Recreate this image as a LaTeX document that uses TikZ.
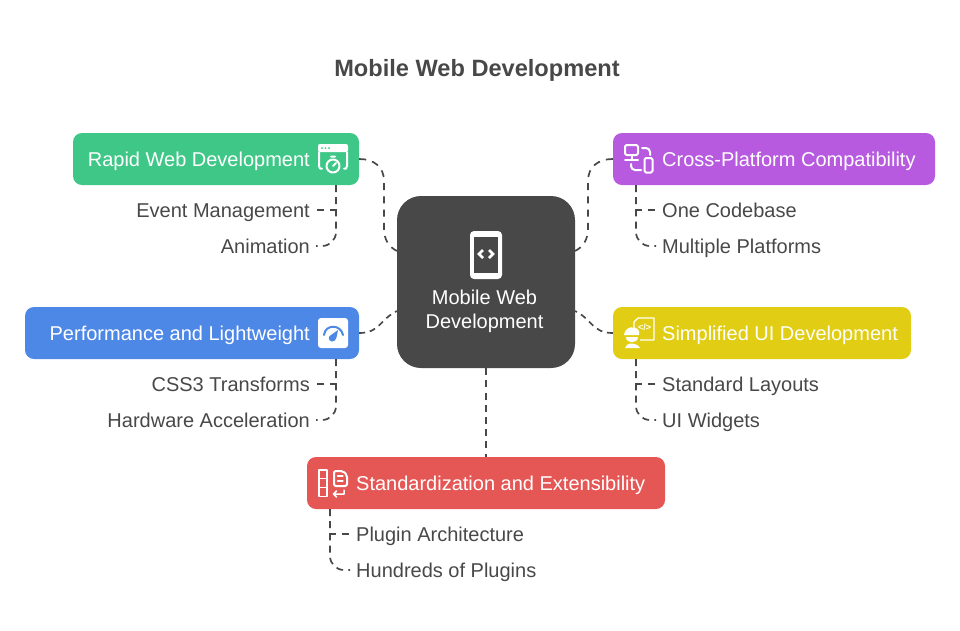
\documentclass[tikz,border=0pt]{standalone}
\usepackage{fontspec}
\setmainfont{Liberation Sans}
\definecolor{inkgrey}{HTML}{484848}
\definecolor{rapidgreen}{HTML}{3EC787}
\definecolor{crosspurple}{HTML}{B75AE0}
\definecolor{perfblue}{HTML}{4E88E7}
\definecolor{simplyellow}{HTML}{E0CD14}
\definecolor{stdred}{HTML}{E55755}
\begin{document}
\begin{tikzpicture} [
                    x=1pt, y=-1pt,
                    box/.style={draw=none, rectangle, rounded corners=9pt, minimum height=52pt, inner sep=0pt},
                    head/.style={text=white, inner sep=0pt, font=\fontsize{20}{24}\selectfont},
                    sublabel/.style={text=inkgrey, inner xsep=6pt, inner ysep=0pt, font=\fontsize{20}{24}\selectfont},
                    link/.style={draw=inkgrey, line width=1.7pt, dash pattern=on 7pt off 5.2pt},
                    longlink/.style={link, dash pattern=on 7pt off 6.2pt},
                    shortlink/.style={link, dash pattern=on 6pt off 4.7pt},
                    branch/.style={link, rounded corners=14pt},
                    icon/.style={draw=white, line width=2pt, line cap=round, line join=round}
                ]
                \useasboundingbox (0,0) rectangle (960,630);
                \node [font=\bfseries\fontsize{23.6}{28}\selectfont, text=inkgrey, inner sep=0pt] (title) at (477,70) {Mobile Web Development};

                % centre block
                \node [box, fill=inkgrey, minimum width=178pt, minimum height=172pt, rounded corners=24pt] (hub) at (486,282) {};
                \node [text=white, inner sep=0pt, align=center, font=\fontsize{20}{24}\selectfont] (hubtext) at (484.5,311) {Mobile Web\\Development};

                % boxes
                \node [box, fill=rapidgreen, minimum width=286pt] (rapid) at (216,159) {};
                \node [box, fill=crosspurple, minimum width=322pt] (cross) at (774,159) {};
                \node [box, fill=perfblue, minimum width=334pt] (perf) at (192,333) {};
                \node [box, fill=simplyellow, minimum width=298pt] (simpl) at (762,333) {};
                \node [box, fill=stdred, minimum width=358pt] (std) at (486,483) {};

                \node [head, anchor=mid east] (rapidtext) at (310,164) {Rapid Web Development};
                \node [head, anchor=mid west] (crosstext) at (662,164) {Cross-Platform Compatibility};
                \node [head, anchor=mid east] (perftext) at (310,338) {Performance and Lightweight};
                \node [head, anchor=mid west] (simpltext) at (662,338) {Simplified UI Development};
                \node [head, anchor=mid west] (stdtext) at (356,488) {Standardization and Extensibility};

                % sub labels
                \node [sublabel, anchor=mid east] (event) at (316,215) {Event Management};
                \node [sublabel, anchor=mid east] (anim) at (316,251) {Animation};
                \node [sublabel, anchor=mid west] (codebase) at (656,215) {One Codebase};
                \node [sublabel, anchor=mid west] (platforms) at (656,251) {Multiple Platforms};
                \node [sublabel, anchor=mid east] (transforms) at (316,389) {CSS3 Transforms};
                \node [sublabel, anchor=mid east] (hardware) at (316,425) {Hardware Acceleration};
                \node [sublabel, anchor=mid west] (layouts) at (656,389) {Standard Layouts};
                \node [sublabel, anchor=mid west] (widgets) at (656,425) {UI Widgets};
                \node [sublabel, anchor=mid west] (plugin) at (350,539) {Plugin Architecture};
                \node [sublabel, anchor=mid west] (hundreds) at (350,575) {Hundreds of Plugins};

                % hub links
                \coordinate (hubnw) at (397,251);
                \coordinate (hubne) at (575,251);
                \coordinate (hubsw) at (397,311);
                \coordinate (hubse) at (575,311);
                \draw [longlink] (rapid.east) .. controls (374,159) and (384,167) .. (384,181) -- (384,228) .. controls (384,240) and (389,247) .. (hubnw);
                \draw [longlink] (cross.west) .. controls (598,159) and (588,167) .. (588,181) -- (588,228) .. controls (588,240) and (583,247) .. (hubne);
                \draw [shortlink] (perf.east) .. controls (380,333) and (380,319) .. (hubsw);
                \draw [shortlink] (simpl.west) .. controls (592,333) and (592,319) .. (hubse);
                \draw [link] (hub.south) -- (std.north);

                % branches
                \coordinate (rapidfoot) at (336,185);
                \coordinate (crossfoot) at (636,185);
                \coordinate (perffoot) at (336,359);
                \coordinate (simplfoot) at (636,359);
                \coordinate (stdfoot) at (330,509);
                \coordinate (eventend) at (316,210);
                \coordinate (animend) at (316,246);
                \coordinate (codebaseend) at (656,210);
                \coordinate (platformsend) at (656,246);
                \coordinate (transformsend) at (316,384);
                \coordinate (hardwareend) at (316,420);
                \coordinate (layoutsend) at (656,384);
                \coordinate (widgetsend) at (656,420);
                \coordinate (pluginend) at (350,534);
                \coordinate (hundredsend) at (350,570);
                \draw [link] (rapidfoot) |- (eventend);
                \draw [branch] (rapidfoot) |- (animend);
                \draw [link] (crossfoot) |- (codebaseend);
                \draw [branch] (crossfoot) |- (platformsend);
                \draw [link] (perffoot) |- (transformsend);
                \draw [branch] (perffoot) |- (hardwareend);
                \draw [link] (simplfoot) |- (layoutsend);
                \draw [branch] (simplfoot) |- (widgetsend);
                \draw [link] (stdfoot) |- (pluginend);
                \draw [branch] (stdfoot) |- (hundredsend);

                % hub icon
                \fill [white, rounded corners=4pt] (470,231) rectangle (502,279);
                \fill [inkgrey] (474,237) rectangle (498,273);
                \draw [white, line width=2.8pt] (483,250) -- (479,254) -- (483,258) (489,250) -- (493,254) -- (489,258);

                % rapid icon
                \fill [white, rounded corners=2pt] (318,144) rectangle (348,152);
                \fill [rapidgreen] (322,148) circle (1) (325.5,148) circle (1) (329,148) circle (1);
                \draw [icon] (319,152) -- (319,166) -- (320,168.5) -- (322,168.5) (347,152) -- (347,166) -- (346,168.5) -- (344,168.5);
                \draw [icon] (333,166) circle (6.5) (331,156.5) -- (335,156.5) (333,166) -- (336,163);

                % cross icon
                \draw [icon, rounded corners=1.5pt] (625,145) rectangle (638,155);
                \draw [icon] (631.5,155) -- (631.5,160) (625,160) -- (638,160);
                \draw [icon, rounded corners=1.5pt] (644.5,158) rectangle (652.5,172.5);
                \draw [icon, rounded corners=4pt] (642,148) -- (650,148) -- (650,155);
                \draw [icon, rounded corners=4pt] (631,164) -- (631,170) -- (641,170);

                % perf icon
                \fill [white, rounded corners=3pt] (318,318) rectangle (348,348);
                \draw [perfblue, line width=2pt, line cap=round] (324,335) .. controls (325,324) and (341,324) .. (343,335);
                \fill [perfblue] (338,330) .. controls (337,334) and (337,342) .. (332,341.5) .. controls (328,341) and (328,336) .. (331,335) .. controls (333,333) and (336,332) .. (338,330);

                % simpl icon
                \draw [draw=white, line width=1.2pt, line join=round] (634,331) -- (634,322) -- (638,318) -- (654,318) -- (654,340) -- (640,340);
                \node [text=white, inner sep=0pt, font=\bfseries\fontsize{9}{9}\selectfont] (codetag) at (644.5,327) {</>};
                \fill [white] (624,335) .. controls (625,326) and (636,325) .. (639,331) -- (639,335) -- cycle;
                \fill [white] (625.5,337) -- (638,337) .. controls (638,344) and (625.5,344) .. (625.5,337) -- cycle;
                \fill [white] (625,348) .. controls (626,342) and (637,342) .. (640,348) -- cycle;

                % std icon
                \draw [icon, line width=1.5pt] (319,470) rectangle (327,478.5) (319,478.5) rectangle (327,487.5) (319,487.5) rectangle (327,496.5);
                \draw [icon, rounded corners=2pt] (334,471) -- (343,471) -- (347,475) -- (347,486) -- (334,486) -- cycle;
                \draw [icon, line width=1.3pt] (337.5,476) -- (343,476) (337.5,481) -- (343,481);
                \draw [icon, line width=1.5pt] (344,490) -- (344,494) -- (334,494) (336.5,491) -- (333.5,494) -- (336.5,497);
                \end{tikzpicture}
\end{document}
